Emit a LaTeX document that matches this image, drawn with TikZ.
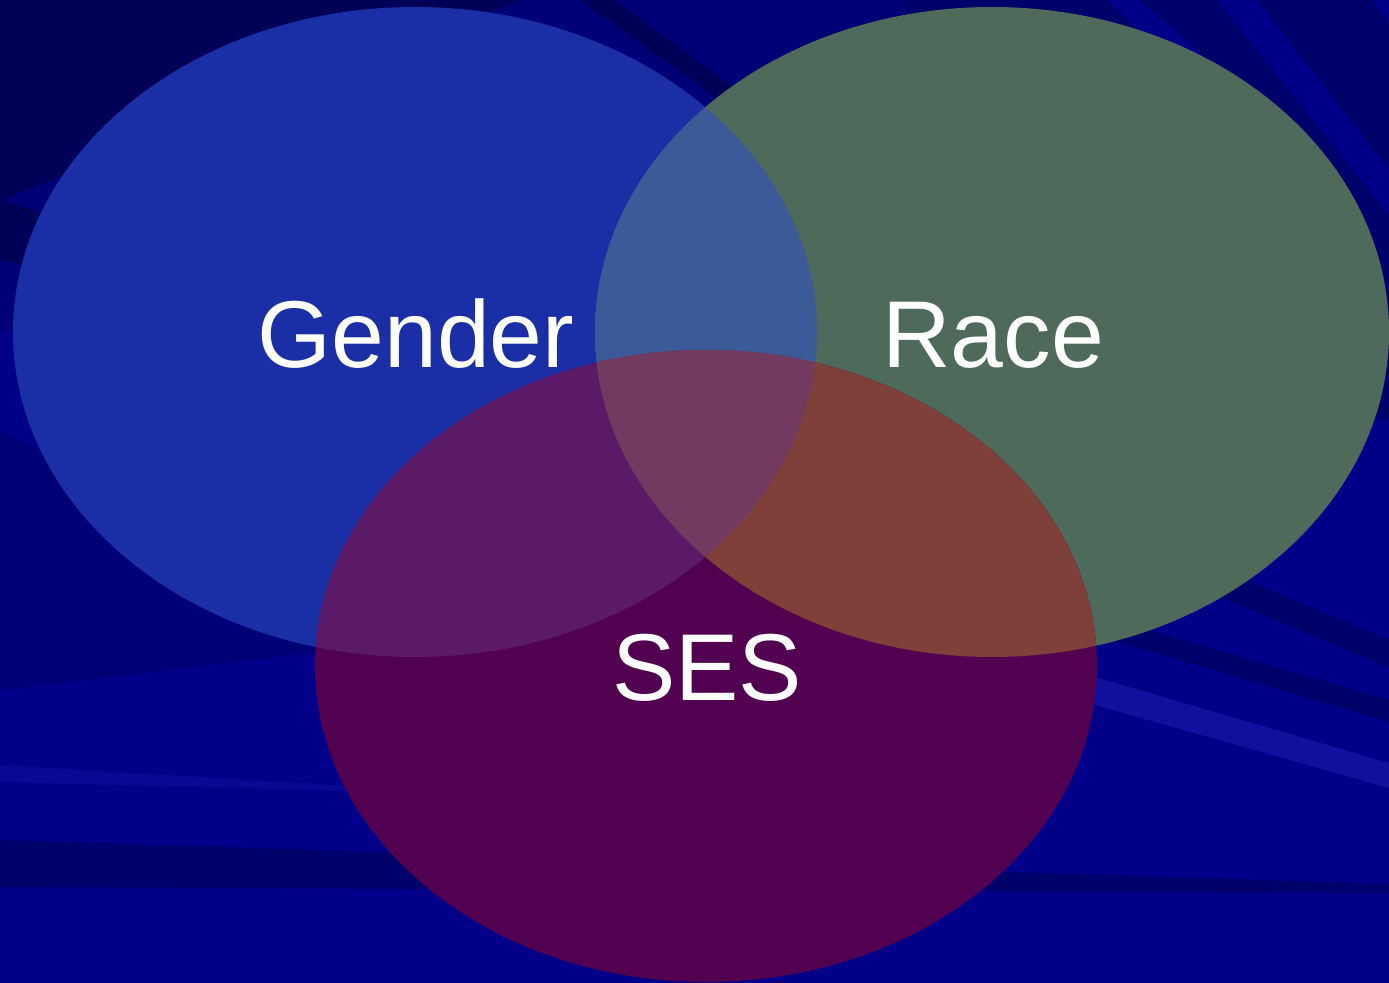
\documentclass[tikz,border=0pt]{standalone}
\usepackage{fontspec}
\setmainfont{Liberation Sans}
\usetikzlibrary{positioning}

\definecolor{bgnavy}{HTML}{000088}
\definecolor{bgdark}{HTML}{00006A}
\definecolor{bgdeep}{HTML}{000056}
\definecolor{bglight}{HTML}{10109C}
\definecolor{gendercol}{HTML}{1A2EA6}
\definecolor{racecol}{HTML}{4E6A5A}
\definecolor{sescol}{HTML}{520050}
\definecolor{genrace}{HTML}{3A5A98}
\definecolor{genses}{HTML}{5A1A68}
\definecolor{raceses}{HTML}{7E4038}
\definecolor{allthree}{HTML}{733A60}

\tikzset{
  vennlabel/.style={text=white, font=\fontsize{27}{27}\selectfont, inner sep=0pt}
}

\begin{document}
\begin{tikzpicture}[x=0.01cm,y=-0.01cm]
\useasboundingbox (0,0) rectangle (1389,983);
% background with streaks
\fill[bgnavy] (0,0) rectangle (1389,983);
\fill[bgdark!60!bgnavy] (0,0) -- (1389,0) -- (1389,420) -- (0,330) -- cycle;
\fill[bgdeep] (0,0) -- (520,0) -- (0,200) -- cycle;
\fill[bgdeep] (0,200) -- (400,330) -- (0,260) -- cycle;
\fill[bgdeep] (580,0) -- (615,0) -- (750,100) -- (720,100) -- cycle;
\fill[bgdark] (900,0) -- (1389,0) -- (1389,420) -- cycle;
\fill[bgnavy] (1217,0) -- (1257,0) -- (1389,170) -- (1389,215) -- cycle;
\fill[bgnavy] (1107,0) -- (1140,0) -- (1230,80) -- (1190,80) -- cycle;
\fill[bgnavy] (1372,0) -- (1389,0) -- (1389,22) -- cycle;
\fill[bgdark!60!bgnavy] (0,430) -- (420,640) -- (0,690) -- cycle;
\fill[bgdark] (1200,560) -- (1389,640) -- (1389,668) -- (1180,580) -- cycle;
\fill[bgdark] (1080,610) -- (1389,700) -- (1389,722) -- (1060,625) -- cycle;
\fill[bglight] (900,620) -- (1389,763) -- (1389,788) -- (900,650) -- cycle;
\fill[bglight!50!bgnavy] (0,765) -- (500,795) -- (0,782) -- cycle;
\fill[bgdark] (0,840) -- (1389,884) -- (1389,893) -- (0,887) -- cycle;

% the three sets
\coordinate (G) at (415,332);
\coordinate (R) at (992,332);
\coordinate (S) at (706,666);
\def\gendershape{(G) ellipse [x radius=402, y radius=325]}
\def\raceshape{(R) ellipse [x radius=397, y radius=325]}
\def\sesshape{(S) ellipse [x radius=391, y radius=316]}
\fill[gendercol] \gendershape;
\fill[racecol] \raceshape;
\fill[sescol] \sesshape;
\begin{scope}
  \clip \gendershape;
  \fill[genrace] \raceshape;
  \fill[genses] \sesshape;
  \clip \raceshape;
  \fill[allthree] \sesshape;
\end{scope}
\begin{scope}
  \clip \raceshape;
  \clip \sesshape;
  \fill[raceses] (0,0) rectangle (1389,983);
  \clip \gendershape;
  \fill[allthree] (0,0) rectangle (1389,983);
\end{scope}

\node[vennlabel] (gender) at (416,334) {Gender};
\node[vennlabel] (race) at (993,335) {Race};
\node[vennlabel] (ses) at (707,668) {SES};
\end{tikzpicture}
\end{document}
